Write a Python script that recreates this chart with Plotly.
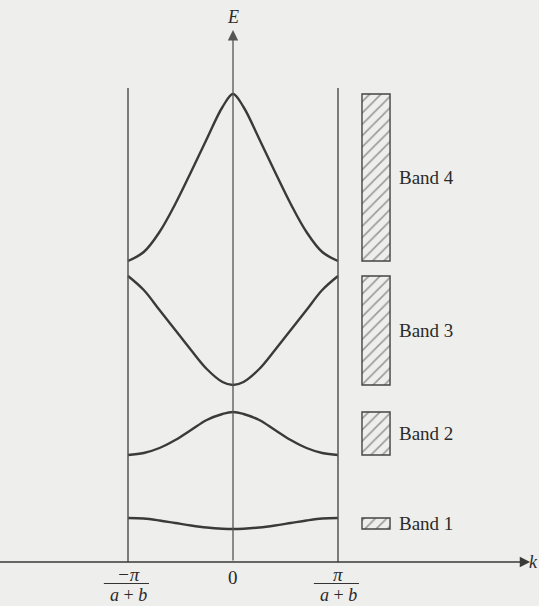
import plotly.graph_objects as go

# Wave number in units of pi/(a+b), and the allowed energies (arbitrary units)
k = [-1, -0.85, -0.7, -0.55, -0.4, -0.25, -0.1, 0, 0.1, 0.25, 0.4, 0.55, 0.7, 0.85, 1]
band1 = [0.44, 0.435, 0.415, 0.39, 0.365, 0.345, 0.333, 0.33, 0.333, 0.345, 0.365, 0.39, 0.415, 0.435, 0.44]
band2 = [1.07, 1.09, 1.14, 1.22, 1.32, 1.42, 1.48, 1.50, 1.48, 1.42, 1.32, 1.22, 1.14, 1.09, 1.07]
band3 = [2.86, 2.72, 2.52, 2.32, 2.12, 1.93, 1.80, 1.77, 1.80, 1.93, 2.12, 2.32, 2.52, 2.72, 2.86]
band4 = [3.01, 3.10, 3.30, 3.58, 3.90, 4.23, 4.55, 4.68, 4.55, 4.23, 3.90, 3.58, 3.30, 3.10, 3.01]
bands = [band1, band2, band3, band4]
band_names = ["Band 1", "Band 2", "Band 3", "Band 4"]

tick_k = [-1, 0, 1]
tick_num = ["\u2212\u03c0", "0", "\u03c0"]

BG = "#eeeeec"
INK = "#3a3a3a"
TXT = "#2a2a2a"
SERIF = "Liberation Serif"

fig = go.Figure()

# Dispersion curves E(k) inside the first Brillouin zone
for E in bands:
    fig.add_trace(go.Scatter(
        x=k, y=E, mode="lines",
        line=dict(color=INK, width=2.4, shape="spline", smoothing=1.0),
        hoverinfo="skip", showlegend=False,
    ))

# Allowed energy ranges shown as hatched bars
lows = [min(E) for E in bands]
highs = [max(E) for E in bands]
bar_x = 1.362
fig.add_trace(go.Bar(
    x=[bar_x] * len(bands),
    base=lows,
    y=[h - l for h, l in zip(highs, lows)],
    width=0.267,
    marker=dict(
        color=BG,
        pattern=dict(shape="/", fgcolor="#444444", bgcolor=BG, size=8, solidity=0.2),
        line=dict(color="#444444", width=1.4),
    ),
    hoverinfo="skip", showlegend=False,
))

annotations = []
for name, lo, hi in zip(band_names, lows, highs):
    annotations.append(dict(
        x=bar_x + 0.2, y=(lo + hi) / 2, text=name, showarrow=False,
        xanchor="left", yanchor="middle",
        font=dict(family=SERIF, size=19, color=TXT),
    ))

# Zone boundaries
shapes = []
for kb in (-1, 1):
    shapes.append(dict(type="line", x0=kb, x1=kb, y0=0, y1=4.74,
                       line=dict(color="#555555", width=1.5)))

# Axes with arrowheads
annotations.append(dict(x=2.83, y=0, ax=-2.3, ay=0, axref="x", ayref="y",
                        xref="x", yref="y", showarrow=True, arrowhead=2,
                        arrowsize=1.6, arrowwidth=1.3, arrowcolor=INK, text=""))
annotations.append(dict(x=0, y=5.32, ax=0, ay=0, axref="x", ayref="y",
                        xref="x", yref="y", showarrow=True, arrowhead=2,
                        arrowsize=1.6, arrowwidth=1.3, arrowcolor="#555555", text=""))
annotations.append(dict(x=0, y=5.45, text="<i>E</i>", showarrow=False,
                        font=dict(family=SERIF, size=18, color=TXT)))
annotations.append(dict(x=306 / 105, y=0.0, text="<i>k</i>", showarrow=False,
                        xanchor="right", yanchor="middle", xshift=1,
                        font=dict(family=SERIF, size=18, color=TXT)))

# Tick labels: fractions pi/(a+b)
for kv, num in zip(tick_k, tick_num):
    if kv == 0:
        annotations.append(dict(x=kv, y=-0.155, text=num, showarrow=False,
                                yanchor="middle",
                                font=dict(family=SERIF, size=19, color=TXT)))
        continue
    annotations.append(dict(x=kv, y=-0.12, text="<i>" + num + "</i>", showarrow=False,
                            yanchor="middle",
                            font=dict(family=SERIF, size=19, color=TXT)))
    annotations.append(dict(x=kv, y=-0.325, text="<i>a</i> + <i>b</i>", showarrow=False,
                            yanchor="middle", borderpad=0,
                            font=dict(family=SERIF, size=18, color=TXT)))
    shapes.append(dict(type="line", x0=kv - 0.23, x1=kv + 0.2, y0=-0.215, y1=-0.215,
                       line=dict(color="#333333", width=1.1)))

fig.update_layout(
    width=539, height=606,
    margin=dict(l=0, r=0, t=0, b=0),
    paper_bgcolor=BG, plot_bgcolor=BG,
    barmode="overlay",
    xaxis=dict(range=[-233 / 105, 306 / 105], visible=False, fixedrange=True),
    yaxis=dict(range=[-0.44, 5.62], visible=False, fixedrange=True),
    shapes=shapes,
    annotations=annotations,
    showlegend=False,
)

fig.write_html("out.html")
